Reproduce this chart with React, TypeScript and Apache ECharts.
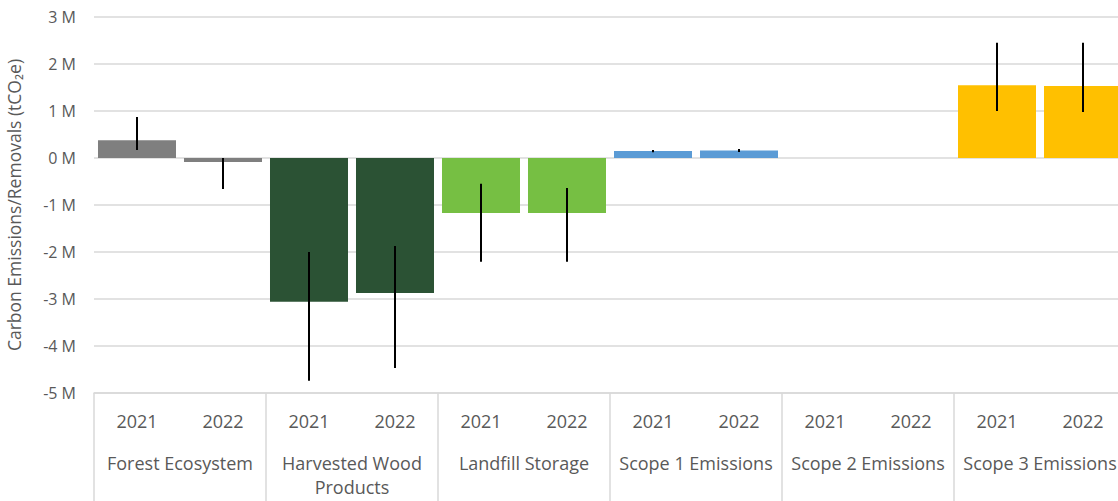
import React, { useEffect, useRef } from "react";
import * as echarts from "echarts";

const groups = ["Forest Ecosystem", "Harvested Wood\nProducts", "Landfill Storage", "Scope 1 Emissions", "Scope 2 Emissions", "Scope 3 Emissions"];
const years = ["2021", "2022"];
const groupColors = ["#7F7F7F", "#2B5234", "#76BF43", "#5B9BD5", "#A5A5A5", "#FFC000"];
// values in millions tCO2e, order: group × year
const values = [0.38, -0.085, -3.06, -2.87, -1.17, -1.17, 0.15, 0.16, 0, 0, 1.55, 1.53];
const errLow = [0.17, -0.66, -4.74, -4.47, -2.21, -2.21, 0.12, 0.13, 0, 0, 1.0, 0.98];
const errHigh = [0.87, 0, -2.0, -1.87, -0.55, -0.64, 0.17, 0.19, 0, 0, 2.45, 2.45];
const yTicks = { min: -5, max: 3, interval: 1 };

export default function App() {
  const ref = useRef<HTMLDivElement>(null);
  useEffect(() => {
    document.body.style.margin = "0";
    const chart = echarts.init(ref.current!, null, { renderer: "svg" });
    const cats: string[] = [];
    groups.forEach(() => years.forEach((y) => cats.push(y)));
    const font = "Open Sans";
    const textColor = "#595959";
    const gridBox = { left: 94, width: 1032, top: 17, bottom: 108, outerBoundsMode: "none", containLabel: false };
    chart.setOption({
      animation: false,
      grid: [gridBox, gridBox],
      xAxis: [
        {
          type: "category",
          gridIndex: 0,
          data: cats,
          axisLine: { show: true, onZero: false, lineStyle: { color: "#D9D9D9", width: 1.5 } },
          axisTick: { show: false },
          axisLabel: { fontFamily: font, fontSize: 18, color: textColor, margin: 19, interval: 0 },
        },
        {
          type: "category",
          gridIndex: 1,
          position: "bottom",
          data: groups,
          axisLine: { show: false, onZero: false },
          axisTick: { show: true, inside: false, length: 110, lineStyle: { color: "#D9D9D9", width: 1.5 } },
          axisLabel: { fontFamily: font, fontSize: 18, color: textColor, margin: 58, lineHeight: 24, interval: 0 },
        },
      ],
      yAxis: [
        {
          type: "value",
          gridIndex: 0,
          min: yTicks.min,
          max: yTicks.max,
          interval: yTicks.interval,
          name: "Carbon Emissions/Removals (tCO₂e)",
          nameLocation: "middle",
          nameGap: 71,
          nameTextStyle: { fontFamily: font, fontSize: 17.5, color: textColor },
          axisLine: { show: false },
          axisTick: { show: false },
          splitLine: { lineStyle: { color: "#D9D9D9", width: 1.5 } },
          axisLabel: { fontFamily: font, fontSize: 16, color: textColor, margin: 18, formatter: (v: number) => `${v} M` },
        },
        {
          type: "value",
          gridIndex: 1,
          min: yTicks.min,
          max: yTicks.max,
          show: false,
          splitLine: { show: false },
        },
      ],
      series: [
        {
          type: "bar",
          xAxisIndex: 0,
          yAxisIndex: 0,
          barCategoryGap: "9.3%",
          data: values.map((v, i) => ({ value: v, itemStyle: { color: groupColors[Math.floor(i / 2)] } })),
        },
        {
          type: "custom",
          xAxisIndex: 0,
          yAxisIndex: 0,
          data: values.map((_, i) => [i, errLow[i], errHigh[i]]),
          renderItem: (params: any, api: any) => {
            const lo = api.value(1);
            const hi = api.value(2);
            if (lo === hi) return null;
            const p1 = api.coord([api.value(0), lo]);
            const p2 = api.coord([api.value(0), hi]);
            return {
              type: "line",
              shape: { x1: p1[0], y1: p1[1], x2: p2[0], y2: p2[1] },
              style: { stroke: "#000", lineWidth: 2 },
            };
          },
          z: 5,
        },
      ],
    });
    return () => chart.dispose();
  }, []);
  return <div ref={ref} style={{ width: 1118, height: 501 }} />;
}
